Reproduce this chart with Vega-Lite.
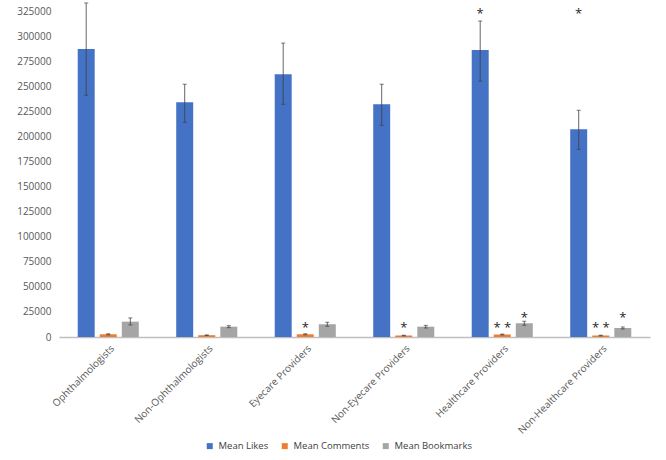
{
  "$schema": "https://vega.github.io/schema/vega-lite/v6.json",
  "width": 591,
  "height": 326,
  "padding": {"left": 16, "top": 2, "right": 10, "bottom": 2},
  "config": {
    "view": {"stroke": null},
    "font": "Open Sans",
    "axis": {"labelColor": "#595959", "labelFontSize": 10, "grid": false, "ticks": false, "titleColor": "#595959"},
    "legend": {"labelColor": "#404040", "labelFontSize": 9.5}
  },
  "datasets": {
    "bars": [
      {"cat": "Ophthalmologists", "series": "Mean Likes", "value": 287000, "lo": 241000, "hi": 333000},
      {"cat": "Ophthalmologists", "series": "Mean Comments", "value": 2700, "lo": 2200, "hi": 3200},
      {"cat": "Ophthalmologists", "series": "Mean Bookmarks", "value": 15300, "lo": 12000, "hi": 19000},
      {"cat": "Non-Ophthalmologists", "series": "Mean Likes", "value": 234000, "lo": 214000, "hi": 252000},
      {"cat": "Non-Ophthalmologists", "series": "Mean Comments", "value": 1800, "lo": 1500, "hi": 2100},
      {"cat": "Non-Ophthalmologists", "series": "Mean Bookmarks", "value": 10300, "lo": 9300, "hi": 11300},
      {"cat": "Eyecare Providers", "series": "Mean Likes", "value": 262000, "lo": 232000, "hi": 293000},
      {"cat": "Eyecare Providers", "series": "Mean Comments", "value": 2700, "lo": 2200, "hi": 3200},
      {"cat": "Eyecare Providers", "series": "Mean Bookmarks", "value": 12700, "lo": 10700, "hi": 14700},
      {"cat": "Non-Eyecare Providers", "series": "Mean Likes", "value": 232000, "lo": 211000, "hi": 252000},
      {"cat": "Non-Eyecare Providers", "series": "Mean Comments", "value": 1500, "lo": 1200, "hi": 1800},
      {"cat": "Non-Eyecare Providers", "series": "Mean Bookmarks", "value": 10300, "lo": 9000, "hi": 11600},
      {"cat": "Healthcare Providers", "series": "Mean Likes", "value": 286000, "lo": 255000, "hi": 315000},
      {"cat": "Healthcare Providers", "series": "Mean Comments", "value": 2500, "lo": 2100, "hi": 2900},
      {"cat": "Healthcare Providers", "series": "Mean Bookmarks", "value": 13700, "lo": 11700, "hi": 15700},
      {"cat": "Non-Healthcare Providers", "series": "Mean Likes", "value": 207000, "lo": 187000, "hi": 226000},
      {"cat": "Non-Healthcare Providers", "series": "Mean Comments", "value": 1500, "lo": 1200, "hi": 1800},
      {"cat": "Non-Healthcare Providers", "series": "Mean Bookmarks", "value": 9000, "lo": 8000, "hi": 10000}
    ],
    "stars": [
      {"cat": "Eyecare Providers", "series": "Mean Comments", "pos": 12000, "star": "*"},
      {"cat": "Non-Eyecare Providers", "series": "Mean Comments", "pos": 12000, "star": "*"},
      {"cat": "Healthcare Providers", "series": "Mean Comments", "pos": 12000, "star": "* *"},
      {"cat": "Healthcare Providers", "series": "Mean Bookmarks", "pos": 22000, "star": "*"},
      {"cat": "Healthcare Providers", "series": "Mean Likes", "pos": 325000, "star": "*"},
      {"cat": "Non-Healthcare Providers", "series": "Mean Comments", "pos": 12000, "star": "* *"},
      {"cat": "Non-Healthcare Providers", "series": "Mean Bookmarks", "pos": 22000, "star": "*"},
      {"cat": "Non-Healthcare Providers", "series": "Mean Likes", "pos": 325000, "star": "*"}
    ]
  },
  "encoding": {
    "x": {
      "field": "cat", "type": "nominal", "sort": null, "title": null,
      "scale": {"paddingInner": 0.38, "paddingOuter": 0.19},
      "axis": {"labelAngle": -45, "labelAlign": "right", "labelBaseline": "top", "labelPadding": 6, "labelOffset": 1, "domainColor": "#BFBFBF", "domainWidth": 1.5, "labelFontSize": 10}
    },
    "xOffset": {
      "field": "series", "type": "nominal",
      "sort": ["Mean Likes", "Mean Comments", "Mean Bookmarks"],
      "scale": {"paddingInner": 0.23, "paddingOuter": 0}
    }
  },
  "layer": [
    {
      "data": {"name": "bars"},
      "mark": {"type": "bar"},
      "encoding": {
        "y": {
          "field": "value", "type": "quantitative", "title": null,
          "scale": {"domain": [0, 325000], "nice": false},
          "axis": {"values": [0, 25000, 50000, 75000, 100000, 125000, 150000, 175000, 200000, 225000, 250000, 275000, 300000, 325000], "format": "d", "domain": false, "labelPadding": 8, "labelOverlap": false}
        },
        "color": {
          "field": "series", "type": "nominal", "title": null,
          "sort": ["Mean Likes", "Mean Comments", "Mean Bookmarks"],
          "scale": {"domain": ["Mean Likes", "Mean Comments", "Mean Bookmarks"], "range": ["#4472C4", "#ED7D31", "#A5A5A5"]},
          "legend": {"orient": "none", "legendX": 146, "legendY": 430, "direction": "horizontal", "symbolType": "square", "symbolSize": 36, "columnPadding": 11, "labelOffset": 4}
        }
      }
    },
    {
      "data": {"name": "bars"},
      "mark": {"type": "rule", "color": "#404040", "strokeWidth": 1, "opacity": 0.8},
      "encoding": {
        "y": {"field": "lo", "type": "quantitative", "title": null, "scale": {"domain": [0, 325000], "nice": false},
          "axis": {"values": [0, 25000, 50000, 75000, 100000, 125000, 150000, 175000, 200000, 225000, 250000, 275000, 300000, 325000], "format": "d", "domain": false, "labelPadding": 8, "labelOverlap": false}},
        "y2": {"field": "hi"}
      }
    },
    {
      "data": {"name": "bars"},
      "mark": {"type": "tick", "color": "#404040", "size": 4, "thickness": 1, "orient": "horizontal"},
      "encoding": {
        "y": {"field": "lo", "type": "quantitative", "title": null, "scale": {"domain": [0, 325000], "nice": false},
          "axis": {"values": [0, 25000, 50000, 75000, 100000, 125000, 150000, 175000, 200000, 225000, 250000, 275000, 300000, 325000], "format": "d", "domain": false, "labelPadding": 8, "labelOverlap": false}}
      }
    },
    {
      "data": {"name": "bars"},
      "mark": {"type": "tick", "color": "#404040", "size": 4, "thickness": 1, "orient": "horizontal"},
      "encoding": {
        "y": {"field": "hi", "type": "quantitative", "title": null, "scale": {"domain": [0, 325000], "nice": false},
          "axis": {"values": [0, 25000, 50000, 75000, 100000, 125000, 150000, 175000, 200000, 225000, 250000, 275000, 300000, 325000], "format": "d", "domain": false, "labelPadding": 8, "labelOverlap": false}}
      }
    },
    {
      "data": {"name": "stars"},
      "mark": {"type": "text", "color": "#262626", "fontSize": 13, "baseline": "middle", "dy": 3},
      "encoding": {
        "y": {"field": "pos", "type": "quantitative", "title": null, "scale": {"domain": [0, 325000], "nice": false},
          "axis": {"values": [0, 25000, 50000, 75000, 100000, 125000, 150000, 175000, 200000, 225000, 250000, 275000, 300000, 325000], "format": "d", "domain": false, "labelPadding": 8, "labelOverlap": false}},
        "text": {"field": "star"}
      }
    }
  ]
}
